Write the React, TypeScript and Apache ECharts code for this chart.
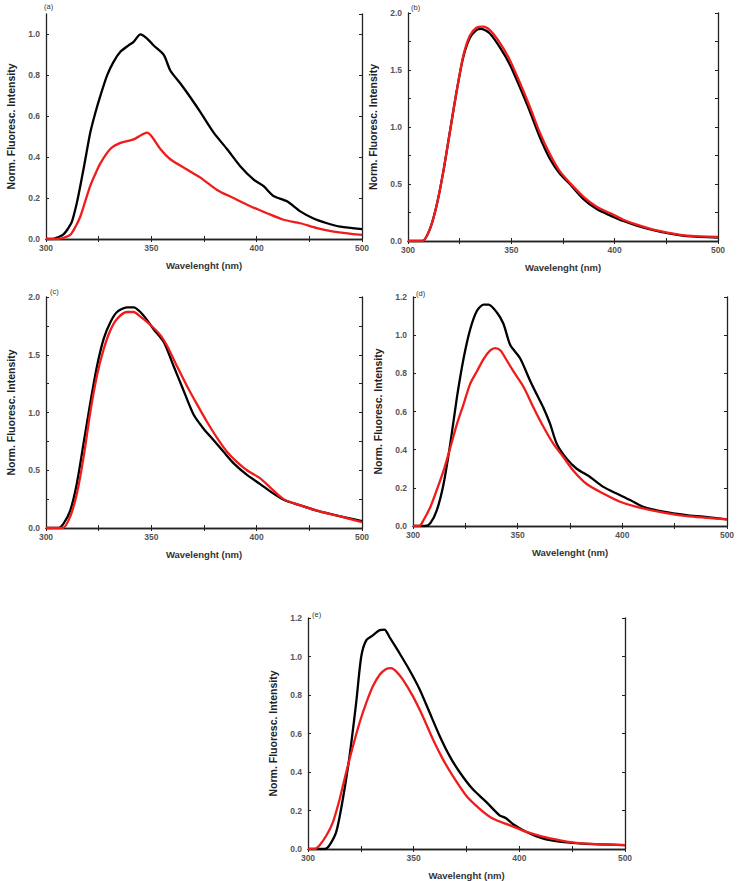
import React, { useEffect, useRef } from "react";
import * as echarts from "echarts";

// ---- data: [wavelength (nm), normalized intensity] ----
const aBlack = [[300,0],[303,0],[306,0.01],[308,0.02],[310,0.044],[312.3,0.085],[314.5,0.17],[316.3,0.26],[318.5,0.38],[321,0.52],[323.5,0.62],[325.8,0.70],[329,0.80],[332,0.865],[335.3,0.915],[339.2,0.947],[341.6,0.964],[344.8,1.0],[348,0.98],[351,0.947],[355.9,0.90],[359,0.824],[363.8,0.76],[368.5,0.693],[373.3,0.62],[379.6,0.52],[385.9,0.44],[392.2,0.356],[398.6,0.29],[403.3,0.258],[408,0.21],[414.4,0.184],[420.7,0.135],[427,0.10],[433.4,0.077],[439.7,0.06],[450,0.048]];
const aRed = [[300,0],[305,0],[308,0.005],[311.5,0.02],[314,0.06],[316.3,0.11],[318.5,0.18],[321,0.26],[323.5,0.32],[325.8,0.37],[330.5,0.44],[335.3,0.47],[341.6,0.487],[348,0.52],[350.3,0.50],[354.3,0.44],[359,0.39],[366.9,0.34],[373.3,0.30],[381.2,0.24],[389,0.20],[397,0.16],[404.9,0.126],[412.8,0.094],[420.7,0.077],[428.6,0.053],[436.6,0.036],[450,0.02]];

const bBlack = [[300,0],[307,0],[310.5,0.10],[313.7,0.30],[317,0.60],[320.2,0.95],[323.4,1.30],[326.7,1.61],[329.9,1.78],[333.1,1.85],[335.5,1.86],[339.6,1.82],[344.4,1.70],[349.2,1.55],[354.1,1.35],[358.9,1.14],[363.8,0.91],[368.7,0.72],[373.5,0.59],[378.3,0.50],[384.8,0.37],[391.3,0.28],[397.7,0.225],[404.2,0.175],[410.7,0.135],[418.7,0.095],[426.8,0.065],[434.9,0.042],[450,0.03]];
const bRed = [[300,0],[307,0],[310.5,0.10],[313.7,0.30],[317,0.60],[320.2,0.95],[323.4,1.30],[326.7,1.62],[329.9,1.80],[333.1,1.87],[336.3,1.88],[339.6,1.85],[344.4,1.74],[349.2,1.59],[354.1,1.39],[358.9,1.18],[363.8,0.95],[368.7,0.76],[373.5,0.61],[378.3,0.51],[384.8,0.39],[391.3,0.30],[397.7,0.245],[404.2,0.187],[410.7,0.143],[418.7,0.10],[426.8,0.07],[434.9,0.047],[450,0.035]];

const cBlack = [[300,0],[306,0],[308.4,0.04],[311.5,0.15],[314.7,0.39],[317.9,0.74],[321,1.08],[324.2,1.40],[327.4,1.64],[330.5,1.78],[333.7,1.87],[338.4,1.91],[341.6,1.91],[344.8,1.87],[348,1.80],[351.1,1.72],[355.9,1.61],[360.6,1.40],[365.3,1.19],[370.1,0.98],[374.8,0.86],[379.6,0.76],[384.3,0.66],[389.1,0.56],[395.4,0.46],[401.7,0.38],[407,0.31],[412.8,0.245],[420,0.20],[428.6,0.15],[439.7,0.10],[450,0.06]];
const cRed = [[300,0],[308,0],[311.5,0.10],[314.7,0.30],[317.9,0.62],[321,1.00],[324.2,1.32],[327.4,1.55],[330.5,1.71],[333.7,1.81],[338.4,1.87],[341.6,1.87],[344.8,1.83],[349.5,1.76],[354.3,1.67],[357.4,1.58],[362.2,1.40],[366.9,1.23],[371.7,1.07],[376.4,0.92],[381.2,0.78],[385.9,0.66],[390.7,0.57],[395.4,0.50],[401.7,0.43],[406.5,0.35],[412.8,0.25],[420,0.20],[428.6,0.15],[439.7,0.10],[450,0.05]];

const dBlack = [[300,0],[306,0],[308.3,0.015],[311.4,0.083],[314.6,0.22],[317.8,0.43],[321,0.675],[324.2,0.88],[327.3,1.03],[330.5,1.127],[333.7,1.16],[336.1,1.16],[340,1.12],[343.2,1.06],[346.4,0.95],[351.1,0.88],[356,0.76],[359.1,0.69],[362.3,0.62],[365.5,0.535],[368.7,0.43],[373.4,0.353],[378.2,0.30],[384.6,0.257],[390.9,0.205],[397.3,0.17],[403.7,0.136],[410,0.10],[419.6,0.075],[430.7,0.057],[438.6,0.049],[450,0.035]];
const dRed = [[300,0],[303,0],[305,0.03],[308.3,0.10],[311.4,0.19],[314.6,0.29],[317.8,0.41],[321,0.535],[324.2,0.64],[327.3,0.745],[330.5,0.81],[333.7,0.875],[336.9,0.92],[339.3,0.932],[341.8,0.92],[344.9,0.866],[348,0.81],[352.9,0.727],[357.6,0.62],[362.3,0.52],[367.1,0.43],[371.9,0.36],[376.6,0.29],[383,0.22],[390.9,0.17],[398.9,0.127],[406.8,0.10],[419.6,0.07],[430.7,0.052],[450,0.035]];

const eBlack = [[300,0],[308,0],[310.2,0.02],[313.4,0.09],[316.5,0.26],[319.7,0.485],[322.8,0.76],[325.2,1.0],[327.6,1.085],[330.7,1.11],[333.9,1.137],[336.2,1.14],[338.6,1.10],[343.3,1.017],[348,0.93],[352.8,0.83],[357.5,0.71],[362.2,0.59],[366.9,0.485],[371.7,0.40],[378,0.31],[384.3,0.245],[390.6,0.175],[393.7,0.16],[396.9,0.13],[403.1,0.09],[411,0.055],[418.9,0.038],[430,0.028],[450,0.02]];
const eRed = [[300,0],[303,0],[305.5,0.02],[308.7,0.07],[311.8,0.14],[315,0.26],[318.1,0.40],[321.3,0.535],[324.4,0.656],[327.6,0.76],[330.7,0.845],[333.9,0.905],[337,0.935],[339.4,0.94],[341.7,0.923],[344.9,0.88],[349.6,0.794],[354.3,0.69],[359.1,0.57],[363.8,0.467],[368.5,0.38],[374.8,0.278],[381.1,0.21],[387.4,0.158],[395.3,0.124],[403.1,0.09],[411,0.064],[418.9,0.046],[428.3,0.03],[450,0.02]];

const xTickValues = [300, 350, 400, 450];
const xTickLabels = ["300", "350", "400", "500"];
const panelLabels = ["(a)", "(b)", "(c)", "(d)", "(e)"];
const xTitle = "Wavelenght (nm)";
const yTitle = "Norm. Fluoresc. Intensity";

const panels = [
  { black: aBlack, red: aRed, ymax: 1.1, yint: 0.2, ylab: 0.2, grid: { left: 46, top: 14, width: 316, height: 225 }, lab: [44, 2] },
  { black: bBlack, red: bRed, ymax: 2.0, yint: 0.25, ylab: 0.5, grid: { left: 408, top: 13, width: 310, height: 228 }, lab: [411, 3] },
  { black: cBlack, red: cRed, ymax: 2.0, yint: 0.25, ylab: 0.5, grid: { left: 46, top: 297, width: 316, height: 231 }, lab: [50, 287] },
  { black: dBlack, red: dRed, ymax: 1.2, yint: 0.2, ylab: 0.2, grid: { left: 413, top: 297, width: 314, height: 229 }, lab: [416, 289] },
  { black: eBlack, red: eRed, ymax: 1.2, yint: 0.2, ylab: 0.2, grid: { left: 308, top: 618, width: 317, height: 233 }, lab: [312, 610] },
];

const FONT = "'Liberation Sans', Arial, sans-serif";
const AXIS_COLOR = "#222";

export default function App() {
  const ref = useRef<HTMLDivElement>(null);
  useEffect(() => {
    document.body.style.margin = "0";
    if (!ref.current) return;
    const chart = echarts.init(ref.current, undefined, { renderer: "svg" });
    const grid: any[] = [];
    const xAxis: any[] = [];
    const yAxis: any[] = [];
    const series: any[] = [];
    const graphic: any[] = [];
    panels.forEach((p, i) => {
      grid.push({ ...p.grid, containLabel: false });
      const axisLine = { show: true, lineStyle: { color: AXIS_COLOR, width: 1.3 } };
      const tick = { show: true, inside: true, length: 3, lineStyle: { color: AXIS_COLOR } };
      xAxis.push({
        type: "value", gridIndex: i, min: 300, max: 450, interval: 25, position: "bottom",
        axisLine, axisTick: tick, splitLine: { show: false },
        axisLabel: {
          fontSize: 8.5, fontWeight: "bold", color: "#555", fontFamily: FONT, margin: 4,
          formatter: (v: number) => { const k = xTickValues.indexOf(v); return k >= 0 ? xTickLabels[k] : ""; },
        },
        name: xTitle, nameLocation: "middle", nameGap: 21,
        nameTextStyle: { fontSize: 9.5, fontWeight: "bold", color: "#333", fontFamily: FONT },
      });
      xAxis.push({
        type: "value", gridIndex: i, min: 300, max: 450, interval: 25, position: "top",
        axisLine, axisTick: tick, axisLabel: { show: false }, splitLine: { show: false },
      });
      yAxis.push({
        type: "value", gridIndex: i, min: 0, max: p.ymax, interval: p.yint, position: "left",
        axisLine, axisTick: tick, splitLine: { show: false },
        axisLabel: {
          fontSize: 8.5, fontWeight: "bold", color: "#555", fontFamily: FONT, margin: 6, showMaxLabel: p.ymax !== 1.1,
          formatter: (v: number) => {
            const r = v / p.ylab;
            return Math.abs(r - Math.round(r)) < 1e-6 && v <= p.ymax + 1e-9 ? v.toFixed(1) : "";
          },
        },
        name: yTitle, nameLocation: "middle", nameGap: 30,
        nameTextStyle: { fontSize: 10.5, fontWeight: "bold", color: "#222", fontFamily: FONT },
      });
      yAxis.push({
        type: "value", gridIndex: i, min: 0, max: p.ymax, interval: p.yint, position: "right",
        axisLine, axisTick: tick, axisLabel: { show: false }, splitLine: { show: false },
      });
      series.push({
        type: "line", xAxisIndex: 2 * i, yAxisIndex: 2 * i, data: p.black, showSymbol: false,
        smooth: 0.25, lineStyle: { color: "#000", width: 2.3 }, itemStyle: { color: "#000" }, z: 2,
      });
      series.push({
        type: "line", xAxisIndex: 2 * i, yAxisIndex: 2 * i, data: p.red, showSymbol: false,
        smooth: 0.25, lineStyle: { color: "#f01c1c", width: 2.3 }, itemStyle: { color: "#f01c1c" }, z: 3,
      });
      graphic.push({
        type: "text", left: p.lab[0], top: p.lab[1],
        style: { text: panelLabels[i], fontSize: 7.5, fill: "#333", fontFamily: FONT },
      });
    });
    chart.setOption({
      animation: false,
      backgroundColor: "#fff",
      grid, xAxis, yAxis, series, graphic,
    });
    return () => chart.dispose();
  }, []);
  return <div ref={ref} style={{ width: 739, height: 881 }} />;
}
